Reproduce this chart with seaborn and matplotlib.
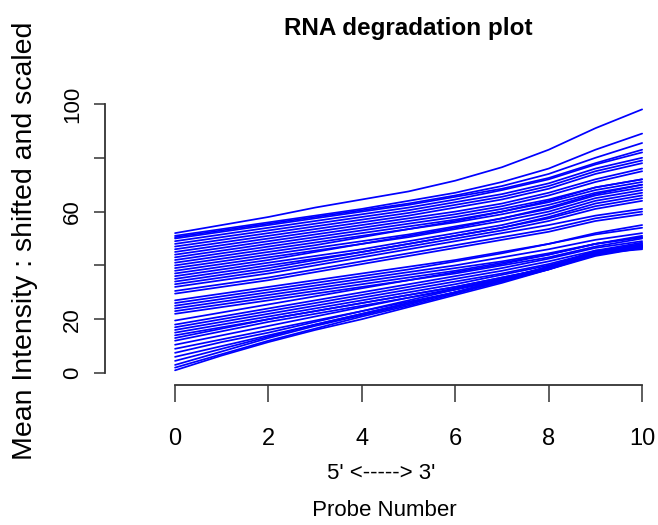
import numpy as np
import pandas as pd
import matplotlib
matplotlib.use("Agg")
import matplotlib.pyplot as plt
import seaborn as sns
from matplotlib import font_manager

probes = list(range(11))
lines = [
    [52, 55, 58, 61.5, 64.5, 67.5, 71.5, 76.5, 83, 91, 98],
    [51, 53.5, 56, 58.5, 61, 64, 67, 71, 76, 83, 89],
    [50.5, 53, 55.5, 58, 60.5, 63, 66, 69.5, 74, 80, 85.5],
    [50, 52.5, 55, 57.5, 60, 62.5, 65.5, 68.5, 72.5, 78, 83],
    [49, 51.5, 54, 56.5, 59, 61.5, 64.5, 68, 72, 77.5, 82],
    [48, 50.5, 53, 55.5, 58, 60.5, 63.5, 66.5, 70.5, 76, 80],
    [47, 49.5, 52, 54.5, 57, 59.5, 62.5, 65.5, 69.5, 75, 79],
    [46, 48.5, 51, 53.5, 56, 58.5, 61.5, 64.5, 68.5, 74, 78],
    [45, 47.5, 50, 52.5, 55, 57.5, 60, 63, 67, 72, 76],
    [44, 46.5, 49, 51.5, 54, 56.5, 59, 62, 66, 71, 75],
    [43, 45.5, 48, 50.5, 53, 55.5, 58, 61, 64.5, 69, 72],
    [42, 44.5, 47, 49.5, 52, 54.5, 57, 60, 63.5, 68, 71],
    [41, 43.5, 46, 48.5, 51, 53.5, 56, 59, 62.5, 67, 70],
    [40, 42.5, 45, 47.5, 50.5, 53.5, 56.5, 60, 64, 69, 72],
    [39, 41.5, 44, 46.5, 49, 51.5, 54.5, 57.5, 61, 66, 69],
    [38, 40.5, 43, 45.5, 48, 50.5, 53.5, 56.5, 60, 65, 68],
    [37, 39.5, 42, 45, 48, 51, 54, 57.5, 61.5, 66.5, 70],
    [36, 38.5, 41, 43.5, 46, 49, 52, 55, 59, 64, 67],
    [35, 37.5, 40, 42.5, 45, 48, 51, 54, 58, 63, 66],
    [34, 36.5, 39, 42, 45, 48, 51, 54, 57.5, 62, 65],
    [33, 35.5, 38, 41, 44, 47, 50, 53, 56.5, 61, 64],
    [32, 34.5, 37, 40, 43, 46, 49, 52, 55, 58.5, 61],
    [30.5, 33, 35.5, 38.5, 41.5, 44.5, 47.5, 50.5, 53.5, 57.5, 60],
    [29.5, 32, 34.5, 37.5, 40.5, 43.5, 46.5, 49.5, 52.5, 56.5, 59],
    [27, 29.5, 32, 34.5, 37, 39.5, 42, 45, 48, 51.5, 54],
    [26, 28.5, 31, 33.5, 36, 38.5, 41.5, 44.5, 48, 52, 55],
    [25, 27.5, 30, 32.5, 35, 37.5, 40, 43, 46, 49.5, 52],
    [24, 26.5, 29, 31.5, 34, 36.5, 39, 41.5, 44.5, 48, 50.5],
    [23, 25.5, 28, 30.5, 33, 35.5, 38, 41, 44, 48, 51],
    [22, 24.5, 27, 29.5, 32, 34.5, 37, 40, 43, 47, 50],
    [19.5, 22.5, 25.5, 28.5, 31.5, 34.5, 37.5, 40.5, 44, 48, 50.5],
    [18, 21, 24, 27, 30, 33, 36, 39, 42.5, 46.5, 49],
    [17, 20, 23, 26, 29, 32, 35, 38, 41.5, 45.5, 48.5],
    [16, 19, 22, 25, 28, 31, 34, 37, 40.5, 45, 48],
    [15, 18, 21, 24, 27, 30, 33, 36.5, 40, 44.5, 47.5],
    [14, 17, 20, 23, 26, 29, 32, 35.5, 39, 44, 47],
    [13, 16.5, 20, 23, 26, 29, 32, 35.5, 39, 44, 47],
    [12, 15.5, 19, 22, 25, 28, 31, 34.5, 38.5, 43.5, 46.5],
    [10.5, 14, 17.5, 21, 24.5, 28, 31.5, 35, 39.5, 45, 48],
    [9, 12.5, 16, 19.5, 23, 26.5, 30, 34, 38.5, 44, 46.5],
    [7.5, 11.5, 15, 19, 23, 27, 31, 35, 39.5, 45, 47.5],
    [6, 10, 14, 18, 22, 26, 30, 34.5, 39, 44.5, 46],
    [4.5, 9, 13.5, 18, 22, 26, 30, 34.5, 39.5, 45, 47],
    [3, 8, 13, 17.5, 21.5, 25.5, 30, 34.5, 39.5, 45.5, 47],
    [2, 7, 12, 16.5, 21, 25, 29.5, 34, 39, 45, 47.5],
    [1, 6.5, 11.5, 16, 20, 24.5, 29, 33.5, 38.5, 44.6, 46.5],
]
x_ticks = [0, 2, 4, 6, 8, 10]
y_ticks = [0, 20, 40, 60, 80, 100]
y_tick_labels = ["0", "20", "", "60", "", "100"]
title = "RNA degradation plot"
xlabel = "5' <-----> 3'\n Probe Number"
ylabel = "Mean Intensity : shifted and scaled"

rows = []
for i, vals in enumerate(lines):
    for p, v in zip(probes, vals):
        rows.append({"sample": i, "probe": p, "value": v})
df = pd.DataFrame(rows)

sns.set_style("white")
available = {f.name for f in font_manager.fontManager.ttflist}
narrow = "Liberation Sans Narrow" if "Liberation Sans Narrow" in available else "Liberation Sans"
plt.rcParams["font.family"] = ["Liberation Sans", "DejaVu Sans"]
plt.rcParams["text.color"] = "black"
plt.rcParams["axes.labelcolor"] = "black"
plt.rcParams["xtick.color"] = "black"
plt.rcParams["ytick.color"] = "black"

fig = plt.figure(figsize=(6.58, 5.25), dpi=100)
ax = fig.add_axes([105 / 658, 1 - 385 / 525, 553 / 658, 289 / 525])

sns.lineplot(data=df, x="probe", y="value", units="sample", estimator=None,
             color="#0000FF", linewidth=1.25, ax=ax, legend=False)

ax.set_xlim(-1.5, 10.34)
ax.set_ylim(-4.46, 102.97)
for s in ["top", "right"]:
    ax.spines[s].set_visible(False)
ax.spines["bottom"].set_bounds(0, 10)
ax.spines["left"].set_bounds(0, 100)
for s in ["bottom", "left"]:
    ax.spines[s].set_color("#333333")
    ax.spines[s].set_linewidth(1.3)

ax.set_xticks(x_ticks)
ax.set_xticklabels([str(t) for t in x_ticks], fontfamily=narrow, fontsize=17)
ax.set_yticks(y_ticks)
ax.set_yticklabels(y_tick_labels, fontsize=16, rotation=90, va="center")
ax.tick_params(axis="x", bottom=True, direction="out", length=12, width=1.1,
               color="#333333", pad=19)
ax.tick_params(axis="y", left=True, direction="out", length=8, width=1.1,
               color="#333333", pad=8)
ax.grid(False)

ax.set_xlabel(xlabel, fontfamily=narrow, fontsize=16, linespacing=2.0, labelpad=9)
ax.set_ylabel(ylabel, fontsize=20.5, labelpad=17)

fig.text(408 / 658, 1 - 28 / 525, title, fontfamily=narrow, fontweight="bold",
         fontsize=17.5, ha="center", va="center")

fig.savefig("out.png", dpi=100, facecolor="white")
